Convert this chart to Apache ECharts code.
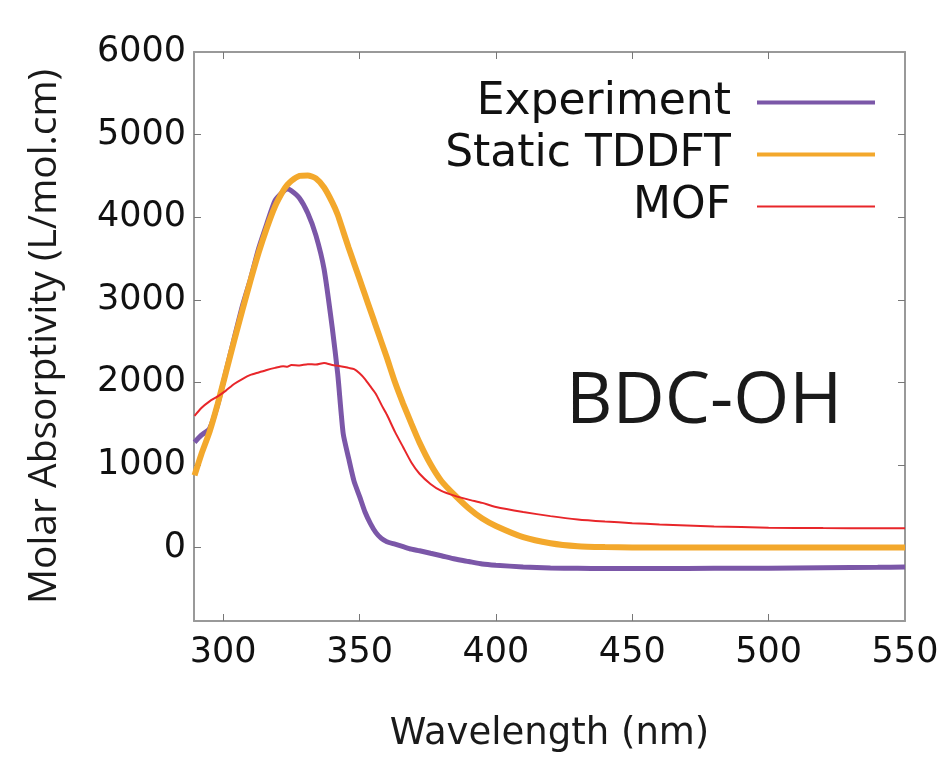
<!DOCTYPE html>
<html>
<head>
<meta charset="utf-8">
<script src="https://cdn.jsdelivr.net/npm/echarts@6/dist/echarts.min.js"></script>
<style>
  html, body { margin: 0; padding: 0; background: #fff; }
  #chart { width: 949px; height: 758px; }
</style>
</head>
<body>
<div id="chart"></div>
<script>
// wavelength grid (nm)
const wavelengths = [289.5, 292, 295, 298, 301, 304, 307, 310, 313, 316, 319, 322, 323.5, 325, 328, 331, 334, 337, 340, 342,
  344, 346, 348, 350, 352, 354, 356, 358, 360, 363, 366, 369, 372, 376, 380, 385, 390, 395, 400, 410,
  420, 430, 440, 450, 460, 480, 500, 520, 540, 550]

const experiment = [1274, 1360, 1440, 1730, 2130, 2530, 2920, 3250, 3620, 3920, 4200, 4310, 4340, 4320, 4230, 4050, 3780, 3370, 2660, 2100,
  1380, 1080, 800, 620, 430, 290, 180, 110, 70, 40, 10, -20, -40, -70, -100, -140, -170, -200, -215, -235,
  -248, -252, -255, -255, -255, -252, -250, -245, -240, -235]

const staticTddft = [874, 1130, 1400, 1740, 2120, 2500, 2870, 3230, 3570, 3870, 4130, 4320, 4390, 4440, 4500, 4505, 4470, 4360, 4180, 4030,
  3830, 3630, 3440, 3250, 3060, 2870, 2680, 2490, 2300, 2000, 1740, 1500, 1270, 1010, 805, 630, 475, 350, 260, 125,
  52, 16, 5, 0, 0, 0, 0, 0, 0, 0]

const mof = [1595, 1690, 1770, 1830, 1900, 1980, 2040, 2090, 2120, 2150, 2175, 2196, 2190, 2210, 2205, 2220, 2215, 2235, 2210, 2200,
  2190, 2175, 2160, 2110, 2040, 1950, 1860, 1730, 1610, 1400, 1214, 1030, 893, 770, 685, 625, 580, 540, 490, 430,
  380, 340, 315, 295, 278, 255, 240, 235, 232, 232]

const xTicks = [300, 350, 400, 450, 500, 550]
const yTicks = [0, 1000, 2000, 3000, 4000, 5000, 6000]

const FONT = 'DejaVu Sans'
const FRAME = '#999999'

function pairs(ys) {
  return wavelengths.map((x, i) => [x, ys[i]])
}

function mkLine(name, ys, color, width) {
  return {
    name: name,
    type: 'line',
    data: pairs(ys),
    showSymbol: false,
    smooth: 0.2,
    lineStyle: { color: color, width: width },
    itemStyle: { color: color }
  }
}

const chart = echarts.init(document.getElementById('chart'))

const xBase = {
  type: 'value',
  min: 289.3,
  max: 550,
  axisLine: { onZero: false, lineStyle: { color: FRAME, width: 2 } },
  axisTick: { inside: true, length: 7, lineStyle: { color: '#777' }, customValues: xTicks.slice(0, 5) },
  splitLine: { show: false }
}
const yBase = {
  type: 'value',
  min: -890,
  max: 6000,
  axisLine: { onZero: false, lineStyle: { color: FRAME, width: 2 } },
  axisTick: { inside: true, length: 7, lineStyle: { color: '#777' }, customValues: yTicks.slice(0, 6) },
  splitLine: { show: false }
}

chart.setOption({
  animation: false,
  backgroundColor: '#fff',
  grid: { left: 194, right: 44, top: 52, bottom: 133, containLabel: false },
  xAxis: [
    Object.assign({}, xBase, {
      position: 'bottom',
      name: 'Wavelength (nm)',
      nameLocation: 'middle',
      nameGap: 95,
      nameTextStyle: { fontFamily: FONT, fontSize: 37, color: '#1a1a1a' },
      axisLabel: { fontFamily: FONT, fontSize: 35, color: '#111', margin: 14, customValues: xTicks, formatter: v => String(v) }
    }),
    Object.assign({}, xBase, { position: 'top', axisLabel: { show: false } })
  ],
  yAxis: [
    Object.assign({}, yBase, {
      position: 'left',
      name: 'Molar Absorptivity (L/mol.cm)',
      nameLocation: 'middle',
      nameGap: 130,
      nameTextStyle: { fontFamily: 'Open Sans', fontSize: 39, color: '#1a1a1a' },
      axisLabel: { fontFamily: FONT, fontSize: 35, color: '#111', margin: 8, customValues: yTicks, formatter: v => String(v) }
    }),
    Object.assign({}, yBase, { position: 'right', axisLabel: { show: false } })
  ],
  legend: {
    orient: 'vertical',
    right: 72,
    top: 79,
    padding: 0,
    align: 'right',
    itemWidth: 118,
    itemHeight: 14,
    itemGap: 5,
    itemStyle: { opacity: 0 },
    textStyle: { fontFamily: FONT, fontSize: 44, color: '#111', lineHeight: 47, padding: [0, 21, 0, 0] },
    data: [
      { name: 'Experiment', lineStyle: { width: 4 } },
      { name: 'Static TDDFT', lineStyle: { width: 4 } },
      { name: 'MOF', lineStyle: { width: 2 } }
    ]
  },
  graphic: [{
    type: 'text',
    left: 566,
    top: 366,
    style: { text: 'BDC-OH', fontFamily: 'Open Sans', fontSize: 72, fill: '#1a1a1a' }
  }],
  series: [
    mkLine('Experiment', experiment, '#7b57a8', 5),
    mkLine('Static TDDFT', staticTddft, '#f3a82c', 6),
    mkLine('MOF', mof, '#e8262a', 2)
  ]
})
</script>
</body>
</html>
